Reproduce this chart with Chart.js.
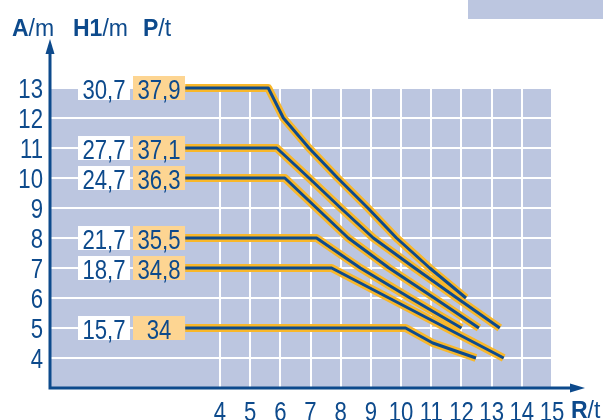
<!DOCTYPE html>
<html>
<head>
<meta charset="utf-8">
<script src="https://cdn.jsdelivr.net/npm/chart.js@4"></script>
<style>
  body { margin: 0; background: #fff; }
  #load-chart { display: block; }
</style>
</head>
<body>
<canvas id="load-chart" width="603" height="420"></canvas>
<script>
// axis ticks
const xTicks = [4, 5, 6, 7, 8, 9, 10, 11, 12, 13, 14, 15];
const yTicks = [4, 5, 6, 7, 8, 9, 10, 11, 12, 13];

// left-hand labels: H1/m and P/t for every curve
const h1Labels = ['30,7', '27,7', '24,7', '21,7', '18,7', '15,7'];
const pLabels = ['37,9', '37,1', '36,3', '35,5', '34,8', '34'];
const levelA = [13, 11, 10, 8, 7, 5];

// curves (R, A)
const curve1R = [2.85, 5.6, 6.1, 6.95, 7.9, 8.9, 9.85, 10.95, 12.15];
const curve1A = [13, 13, 12, 11, 10, 9, 8, 7, 6];
const curve2R = [2.85, 5.88, 6.95, 8.0, 9.08, 10.45, 11.85, 13.27];
const curve2A = [11, 11, 10, 9, 8, 7, 6, 5];
const curve3R = [2.85, 6.15, 7.2, 8.25, 9.6, 11.1, 12.58];
const curve3A = [10, 10, 9, 8, 7, 6, 5];
const curve4R = [2.85, 7.2, 8.65, 10.3, 12.0];
const curve4A = [8, 8, 7, 6, 5];
const curve5R = [2.85, 7.7, 9.6, 11.5, 13.4];
const curve5A = [7, 7, 6, 5, 4];
const curve6R = [2.85, 10.15, 11.05, 12.48];
const curve6A = [5, 5, 4.5, 4];

const BLUE = '#0d4a8c';
const LAVENDER = '#bcc6e0';
const ORANGE_LINE = '#f8b72a';
const ORANGE_BOX = '#fdd592';
const SANS = '"Liberation Sans", Arial, sans-serif';

document.addEventListener('DOMContentLoaded', function() {
    const curves = [
        [curve1R, curve1A], [curve2R, curve2A], [curve3R, curve3A],
        [curve4R, curve4A], [curve5R, curve5A], [curve6R, curve6A]
    ];

    const datasets = [];
    curves.forEach(function(c) {
        const pts = c[0].map((r, i) => ({ x: r, y: c[1][i] }));
        // orange outline under, navy core on top
        datasets.push({ data: pts, borderColor: ORANGE_LINE, borderWidth: 8, order: 1 });
        datasets.push({ data: pts, borderColor: BLUE, borderWidth: 3, order: 0 });
    });

    // condensed numbers: regular sans squeezed horizontally
    function narrowText(ctx, text, x, y, align) {
        ctx.save();
        ctx.translate(x, y);
        ctx.scale(0.82, 1);
        ctx.font = '27px ' + SANS;
        ctx.textAlign = align;
        ctx.textBaseline = 'alphabetic';
        ctx.fillText(text, 0, 0);
        ctx.restore();
    }

    function titleParts(ctx, parts, x, y) {
        ctx.textAlign = 'left';
        ctx.textBaseline = 'alphabetic';
        parts.forEach(function(p) {
            ctx.font = (p[1] ? 'bold ' : '') + '23px ' + SANS;
            ctx.fillText(p[0], x, y);
            x += ctx.measureText(p[0]).width;
        });
    }

    const decor = {
        id: 'decor',
        beforeDraw(chart) {
            const ctx = chart.ctx;
            const a = chart.chartArea;
            ctx.save();
            ctx.fillStyle = LAVENDER;
            ctx.fillRect(a.left, a.top, a.right - a.left, a.bottom - a.top);
            ctx.fillRect(468, 0, 135, 19);
            ctx.restore();
        },
        afterDraw(chart) {
            const ctx = chart.ctx;
            const a = chart.chartArea;
            const xs = chart.scales.x;
            const ys = chart.scales.y;
            ctx.save();

            // axes with arrows
            ctx.strokeStyle = BLUE;
            ctx.fillStyle = BLUE;
            ctx.lineWidth = 3;
            ctx.beginPath();
            ctx.moveTo(a.left, a.bottom + 1.5);
            ctx.lineTo(a.left, 52);
            ctx.moveTo(a.left - 1.5, a.bottom);
            ctx.lineTo(571, a.bottom);
            ctx.stroke();
            ctx.beginPath();
            ctx.moveTo(a.left, 39);
            ctx.lineTo(a.left - 4.5, 54);
            ctx.lineTo(a.left + 4.5, 54);
            ctx.closePath();
            ctx.fill();
            ctx.beginPath();
            ctx.moveTo(585, a.bottom);
            ctx.lineTo(570, a.bottom - 4.5);
            ctx.lineTo(570, a.bottom + 4.5);
            ctx.closePath();
            ctx.fill();

            // tick labels
            yTicks.forEach(v => narrowText(ctx, String(v), 43, ys.getPixelForValue(v) + 10, 'right'));
            xTicks.forEach(v => narrowText(ctx, String(v), xs.getPixelForValue(v), 421, 'center'));

            // titles
            titleParts(ctx, [['A', true], ['/m', false]], 12, 36);
            titleParts(ctx, [['H1', true], ['/m', false]], 73, 36);
            titleParts(ctx, [['P', true], ['/t', false]], 143, 36);
            titleParts(ctx, [['R', true], ['/t', false]], 571, 418);

            // label boxes
            levelA.forEach(function(v, i) {
                const y = ys.getPixelForValue(v);
                ctx.fillStyle = '#ffffff';
                ctx.fillRect(78, y - 12, 52, 24);
                ctx.fillStyle = ORANGE_BOX;
                ctx.fillRect(133, y - 12, 52, 24);
                ctx.fillStyle = BLUE;
                narrowText(ctx, h1Labels[i], 104, y + 10.5, 'center');
                narrowText(ctx, pLabels[i], 159, y + 10.5, 'center');
            });
            ctx.restore();
        }
    };

    new Chart(document.getElementById('load-chart'), {
        type: 'line',
        data: { datasets: datasets },
        options: {
            responsive: false,
            animation: false,
            events: [],
            layout: { padding: { left: 50, right: 51, top: 88, bottom: 32 } },
            elements: {
                point: { radius: 0 },
                line: { tension: 0, fill: false, borderJoinStyle: 'round', borderCapStyle: 'butt' }
            },
            datasets: { line: { clip: false } },
            plugins: { legend: { display: false }, tooltip: { enabled: false } },
            scales: {
                x: {
                    type: 'linear',
                    min: -1.63,
                    max: 15,
                    afterBuildTicks: s => { s.ticks = xTicks.map(v => ({ value: v })); },
                    ticks: { display: false },
                    grid: { color: '#ffffff', lineWidth: 2, drawTicks: false },
                    border: { display: false }
                },
                y: {
                    type: 'linear',
                    min: 3,
                    max: 13,
                    afterBuildTicks: s => { s.ticks = yTicks.map(v => ({ value: v })); },
                    ticks: { display: false },
                    grid: { color: '#ffffff', lineWidth: 2, drawTicks: false },
                    border: { display: false }
                }
            }
        },
        plugins: [decor]
    });
});
</script>
</body>
</html>
